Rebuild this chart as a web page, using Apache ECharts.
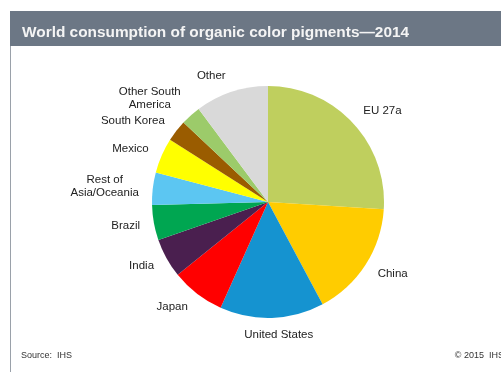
<!DOCTYPE html>
<html>
<head>
<meta charset="utf-8">
<script src="https://cdn.jsdelivr.net/npm/echarts@6/dist/echarts.min.js"></script>
<style>
  html, body { margin: 0; padding: 0; background: #fff; }
  #chart { width: 501px; height: 372px; }
</style>
</head>
<body>
<div id="chart"></div>
<script>
// regions and share of world consumption (%)
var regions = ['EU 27a', 'China', 'United States', 'Japan', 'India', 'Brazil',
    'Rest of\nAsia/Oceania', 'Mexico', 'South Korea', 'Other South\nAmerica', 'Other'];
var shares = [26, 16.2, 14.5, 7.5, 5.5, 4.9, 4.5, 4.9, 3.0, 2.8, 10.2];
var colors = ['#bfcf5e', '#ffcc00', '#1593d0', '#ff0000', '#4a1f4f', '#00a651',
    '#5cc6f2', '#ffff00', '#9a5c00', '#9ccb6a', '#d9d9d9'];

var pieCenter = [268, 202];
var pieRadius = 116;
var labelGap = 12;

var pieData = [];
for (var i = 0; i < regions.length; i++) {
    pieData.push({ name: regions[i], value: shares[i], itemStyle: { color: colors[i] } });
}

// mid angle of each slice, clockwise from 12 o'clock
var total = 0;
shares.forEach(function (v) { total += v; });
var midAngles = [];
var acc = 0;
for (var i = 0; i < shares.length; i++) {
    midAngles.push((acc + shares[i] / 2) / total * Math.PI * 2);
    acc += shares[i];
}

var myChart = echarts.init(document.getElementById('chart'));
var option = {
    animation: false,
    title: {
        text: 'World consumption of organic color pigments\u20142014',
        left: 17,
        top: 20,
        textStyle: { color: '#f4f4f4', fontSize: 15.4, fontWeight: 'bold', fontFamily: 'Liberation Sans, Arial' }
    },
    graphic: [
        { type: 'rect', shape: { x: 10, y: 11, width: 491, height: 35 }, style: { fill: '#6c7785' }, z: -1 },
        { type: 'rect', shape: { x: 10, y: 46, width: 1, height: 326 }, style: { fill: '#9aa1aa' } },
        { type: 'text', left: 21, top: 351, style: { text: 'Source:  IHS', fontSize: 9, fill: '#333', fontFamily: 'Liberation Sans, Arial' } },
        { type: 'text', right: -3, top: 351, style: { text: '\u00a9 2015  IHS', fontSize: 9, fill: '#333', fontFamily: 'Liberation Sans, Arial' } }
    ],
    series: [{
        type: 'pie',
        center: pieCenter,
        radius: pieRadius,
        startAngle: 90,
        clockwise: true,
        avoidLabelOverlap: false,
        label: {
            show: true,
            position: 'outside',
            fontSize: 11.5,
            color: '#222',
            fontFamily: 'Liberation Sans, Arial',
            lineHeight: 13
        },
        labelLine: { show: false },
        labelLayout: function (params) {
            // label box sits beside the rim point at the slice's middle angle
            var a = midAngles[params.dataIndex];
            var ux = Math.sin(a), uy = -Math.cos(a);
            var w = params.labelRect.width, h = params.labelRect.height;
            var r = pieRadius + labelGap;
            var side = Math.max(-1, Math.min(1, ux * 5));
            return {
                x: pieCenter[0] + ux * r + side * (w / 2 + 2),
                y: pieCenter[1] + uy * r + uy * (h / 2 - 2),
                align: 'center',
                verticalAlign: 'middle',
                hideOverlap: false
            };
        },
        itemStyle: { borderWidth: 0 },
        data: pieData
    }]
};
myChart.setOption(option);
</script>
</body>
</html>
